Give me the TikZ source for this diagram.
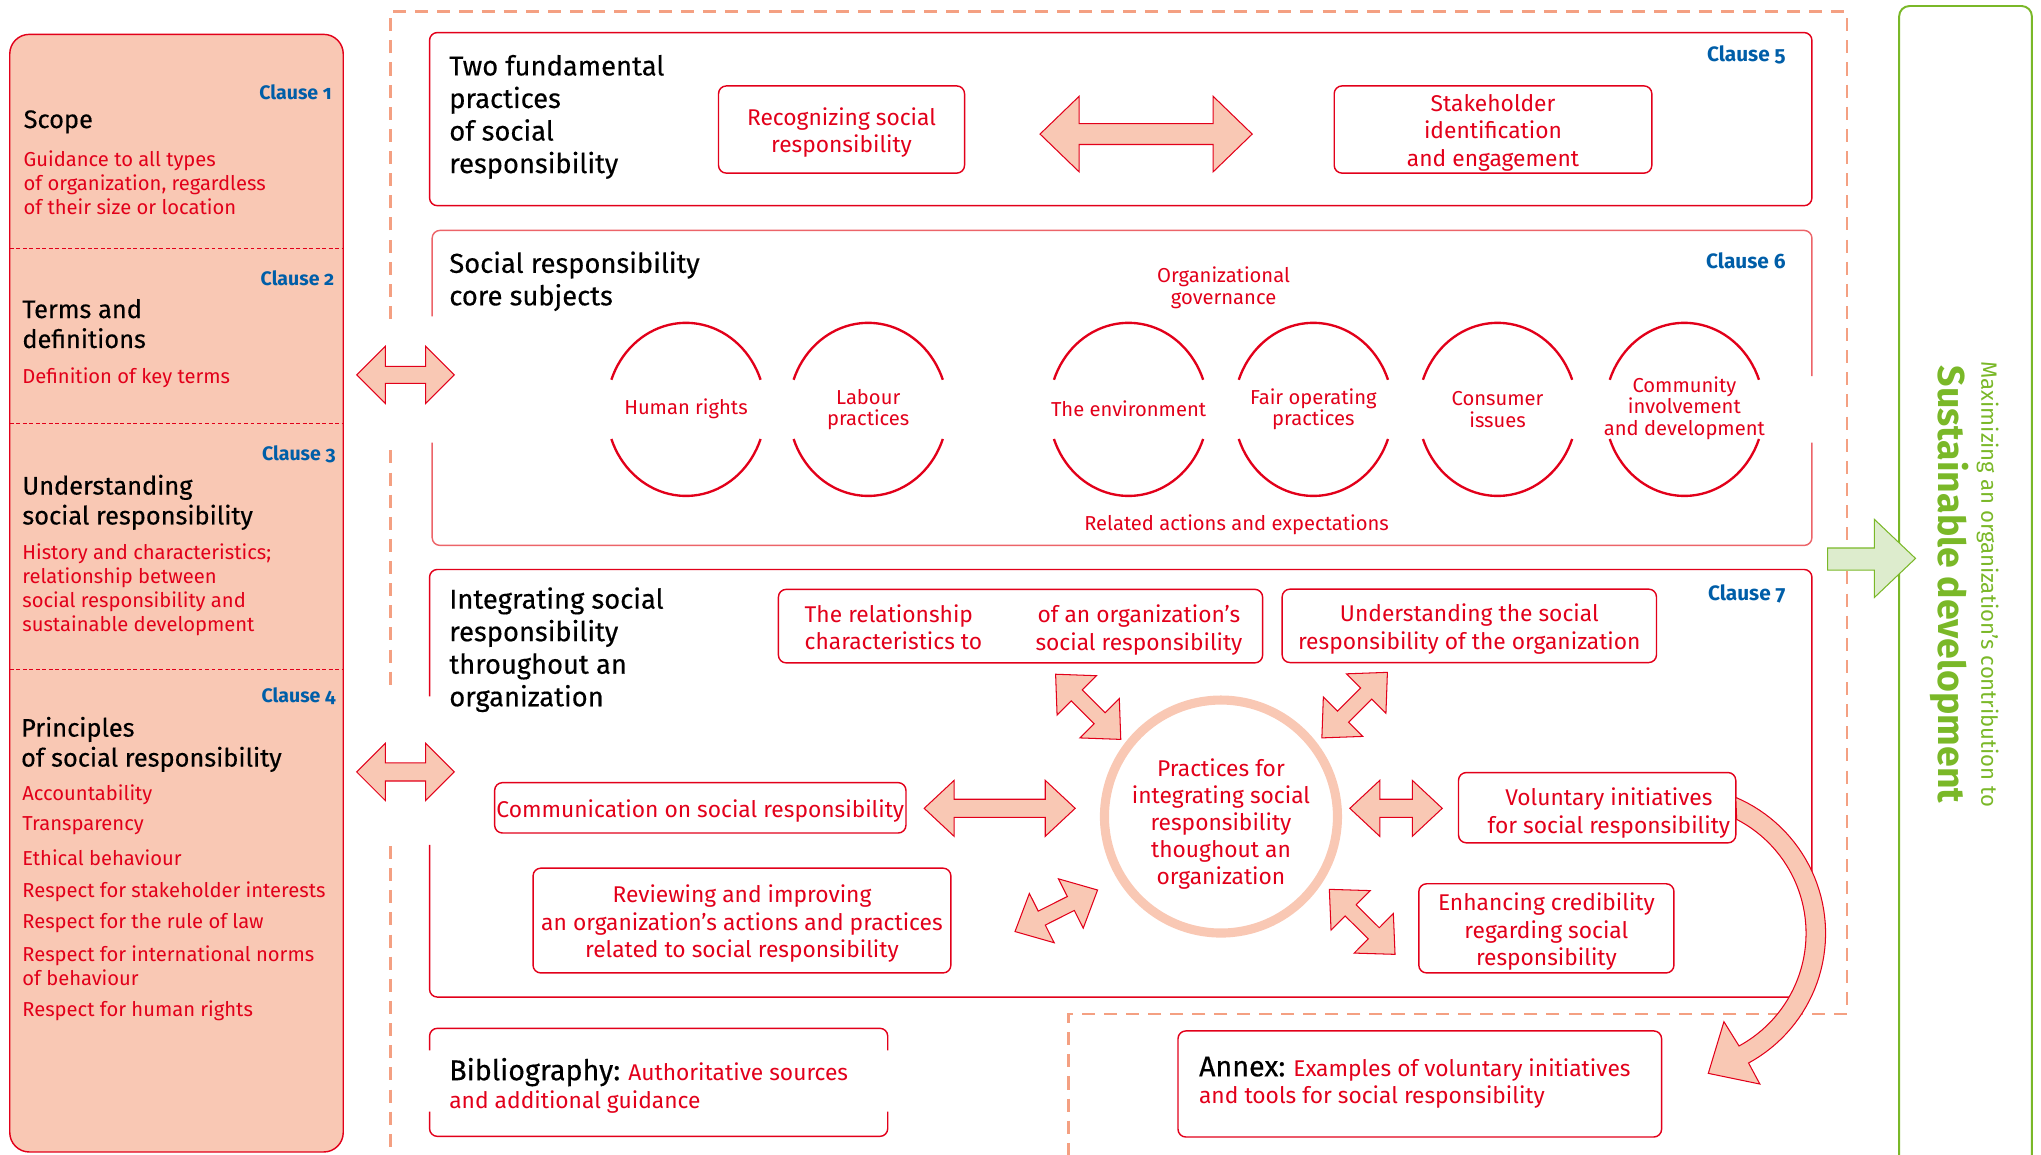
\documentclass[tikz,border=0pt]{standalone}
\usepackage{fontspec}
\setmainfont{Fira Sans}
\newfontfamily\srmed[FakeBold=0.35]{Fira Sans}
\definecolor{srred}{RGB}{226,0,26}
\definecolor{srredlight}{RGB}{236,100,105}
\definecolor{srpink}{RGB}{249,200,180}
\definecolor{srblue}{RGB}{0,94,168}
\definecolor{srgreen}{RGB}{122,184,40}
\definecolor{srgreenlight}{RGB}{221,236,205}
\definecolor{srdash}{RGB}{244,160,130}
\tikzset{
 redbox/.style={draw=srred, line width=1.1pt, rounded corners=6pt},
 emptybox/.style={redbox, inner sep=0pt},
 blockarrow/.style={fill=srpink, draw=srred, line width=0.8pt, line join=miter},
 lhead/.style={anchor=north west, inner sep=0pt, align=left, font=\srmed\fontsize{19.5}{23}\selectfont},
 ltext/.style={anchor=north west, inner sep=0pt, align=left, text=srred, font=\fontsize{15.5}{18.5}\selectfont},
 bhead/.style={anchor=north west, inner sep=0pt, align=left, font=\srmed\fontsize{21}{25}\selectfont},
 clauselbl/.style={anchor=east, inner sep=0pt, text=srblue, font=\fontsize{15}{18}\selectfont\bfseries\addfontfeatures{Numbers=OldStyle}},
 bclause/.style={clauselbl, font=\fontsize{16}{18}\selectfont\bfseries\addfontfeatures{Numbers=OldStyle}},
 ctext/.style={inner sep=0pt, align=center, text=srred, font=\fontsize{15.5}{16.5}\selectfont},
 btext/.style={inner sep=0pt, align=center, text=srred, font=\fontsize{17.5}{21}\selectfont, yshift=-2.5pt},
 subj/.style={draw=srred, line width=1.8pt},
 dashframe/.style={draw=srdash, line width=2pt, dash pattern=on 10pt off 7pt},
}
\newcommand{\dblarrow}[7]{%
\begin{scope}[shift={(#1,#2)},rotate=#3]
\filldraw[blockarrow] (-#4,0) -- ({-#4+#5},{-#6}) -- ({-#4+#5},{-#7}) -- ({#4-#5},{-#7}) -- ({#4-#5},{-#6}) -- (#4,0) -- ({#4-#5},{#6}) -- ({#4-#5},{#7}) -- ({-#4+#5},{#7}) -- ({-#4+#5},{#6}) -- cycle;
\end{scope}}
\begin{document}
\begin{tikzpicture}[x=1pt,y=-1pt]
\useasboundingbox (0,0) rectangle (1568,887);
% left panel
\filldraw[fill=srpink, draw=srred, line width=1.1pt, rounded corners=15pt] (7.5,26.4) rectangle (263.7,885);
\foreach \yy in {191,325.5,514} {
 \draw[srred, line width=0.8pt, dash pattern=on 3pt off 2pt] (7.5,\yy) -- (263.7,\yy);
}
\node[clauselbl] (c1) at (255,71) {Clause 1};
\node[lhead] (scope) at (18,84.5) {Scope};
\node[ltext] (scopet) at (18,115.5) {Guidance to all types\\of organization, regardless\\of their size or location};
\node[clauselbl] (c2) at (257,214) {Clause 2};
\node[lhead] (terms) at (17,229.5) {Terms and\\definitions};
\node[ltext] (termst) at (17,282.5) {Definition of key terms};
\node[clauselbl] (c3) at (258,349) {Clause 3};
\node[lhead] (under) at (17,364.5) {Understanding\\social responsibility};
\node[ltext] (undert) at (17,417.5) {History and characteristics;\\relationship between\\social responsibility and\\sustainable development};
\node[clauselbl] (c4) at (258,535) {Clause 4};
\node[lhead] (princ) at (16,550.5) {Principles\\of social responsibility};
\node[ltext] (p1) at (17,602.5) {Accountability};
\node[ltext] (p2) at (17,627.5) {Transparency};
\node[ltext] (p3) at (17,652.5) {Ethical behaviour};
\node[ltext] (p4) at (17,677.5) {Respect for stakeholder interests};
\node[ltext] (p5) at (17,701.5) {Respect for the rule of law};
\node[ltext] (p6) at (17,726.5) {Respect for international norms\\of behaviour};
\node[ltext] (p7) at (17,768.5) {Respect for human rights};
% dashed frame
\draw[dashframe] (300,245) -- (300,9) -- (1419,9) -- (1419,779) -- (821,779) -- (821,887);
\draw[dashframe] (300,346) -- (300,529);
\draw[dashframe] (300,650) -- (300,887);
% green box
\draw[draw=srgreen, line width=1.5pt, rounded corners=8pt] (1459,895) -- (1459,4.6) -- (1561,4.6) -- (1561,895);
\filldraw[fill=srgreenlight, draw=srgreen, line width=0.8pt] (1404,421) -- (1440,421) -- (1440,399) -- (1471.6,429) -- (1440,459) -- (1440,438) -- (1404,438) -- cycle;
\node[rotate=-90, text=srgreen, font=\fontsize{28.8}{30}\selectfont\bfseries, inner sep=0pt] (sd) at (1497.6,449) {Sustainable development};
\node[rotate=-90, text=srgreen, font=\fontsize{17}{20}\selectfont, inner sep=0pt] (maxi) at (1527,449) {Maximizing an organization’s contribution to};
% clause 5
\draw[redbox] (330,25) rectangle (1392,158);
\node[bclause] (c5) at (1372,42.5) {Clause 5};
\node[bhead] (h5) at (345,42) {Two fundamental\\practices\\of social\\responsibility};
\node[emptybox, minimum width=189pt, minimum height=67pt] (recog) at (646.5,99.5) {};
\node[btext] (recogt) at (recog.center) {Recognizing social\\responsibility};
\node[emptybox, minimum width=244pt, minimum height=67pt] (stake) at (1147,99.5) {};
\node[btext] (staket) at (stake.center) {Stakeholder\\identification\\and engagement};
\dblarrow{880.5}{103}{0}{81.5}{30}{29}{8}
% clause 6
\draw[redbox, draw=srredlight] (332,243) -- (332,177) -- (1392,177) -- (1392,289);
\draw[redbox, draw=srredlight] (1392,340) -- (1392,419) -- (332,419) -- (332,340);
\node[bclause] (c6) at (1372,200) {Clause 6};
\node[bhead] (h6) at (345,193) {Social responsibility\\core subjects};
\foreach \cx in {527,667,867,1009,1150.5,1294} {
 \draw[subj] plot[domain=20:160,samples=40] ({\cx+61*cos(\x)},{314.5-66.5*sin(\x)});
 \draw[subj] plot[domain=200:340,samples=40] ({\cx+61*cos(\x)},{314.5-66.5*sin(\x)});
}
\node[ctext] (hr) at (527,314) {Human rights};
\node[ctext] (lab) at (667,314.5) {Labour\\practices};
\node[ctext] (env) at (867,314) {The environment};
\node[ctext] (fair) at (1009,314.5) {Fair operating\\practices};
\node[ctext] (cons) at (1150.5,314.5) {Consumer\\issues};
\node[ctext] (commu) at (1294,313.5) {Community\\involvement\\and development};
\node[ctext] (gov) at (940,221) {Organizational\\governance};
\node[ctext] (rel) at (950,403.5) {Related actions and expectations};
\dblarrow{311.5}{288}{0}{37.5}{22}{22}{6.5}
% clause 7
\draw[redbox] (330,535) -- (330,437.5) -- (1392,437.5) -- (1392,766) -- (330,766) -- (330,649);
\node[bclause] (c7) at (1372,456) {Clause 7};
\node[bhead] (h7) at (345,451) {Integrating social\\responsibility\\throughout an\\organization};
\dblarrow{311.5}{593}{0}{37.5}{22}{22}{7}
\node[emptybox, minimum width=372pt, minimum height=56.5pt] (relbox) at (784,481) {};
\node[btext, align=left, anchor=north west, yshift=0pt] (relL) at (618,462) {The relationship\\characteristics to};
\node[btext] (relR) at (875,481.5) {of an organization’s\\social responsibility};
\node[emptybox, minimum width=287.6pt, minimum height=56.4pt] (undbox) at (1128.8,480.8) {};
\node[btext] (undt) at (undbox.center) {Understanding the social\\responsibility of the organization};
\node[emptybox, minimum width=316pt, minimum height=38.7pt] (commbox) at (538,620.6) {};
\node[btext] (commt) at (commbox.center) {Communication on social responsibility};
\node[emptybox, minimum width=321pt, minimum height=80.5pt] (revbox) at (570,707.2) {};
\node[btext] (revt) at (revbox.center) {Reviewing and improving\\an organization’s actions and practices\\related to social responsibility};
\node[emptybox, minimum width=213pt, minimum height=54pt] (volbox) at (1227,620.5) {};
\node[btext] (voltxt) at (1236,622) {Voluntary initiatives\\for social responsibility};
\node[emptybox, minimum width=196pt, minimum height=68.5pt] (enhbox) at (1188,713.2) {};
\node[btext] (enht) at (enhbox.center) {Enhancing credibility\\regarding social\\responsibility};
\node[circle, draw=srpink, line width=7pt, minimum size=179pt, inner sep=0pt] (prac) at (938,627.3) {};
\node[btext, font=\fontsize{17.5}{20.6}\selectfont] (practxt) at (938,630.5) {Practices for\\integrating social\\responsibility\\thoughout an\\organization};
\dblarrow{768}{621}{0}{58}{23}{21.5}{7}
\dblarrow{1072.5}{621}{0}{35.5}{23}{21.5}{7}
\dblarrow{836}{543}{-45}{35.4}{23}{21.4}{6}
\dblarrow{1040.7}{541.7}{45}{35.6}{23}{21.4}{6}
\dblarrow{811.5}{699.7}{26.7}{35.5}{23}{21.2}{6}
\dblarrow{1046.5}{708.2}{-44.7}{35.5}{23}{21.4}{6}
% bibliography and annex
\draw[redbox] (330,807) -- (330,790) -- (682,790) -- (682,807);
\draw[redbox] (330,854) -- (330,873) -- (682,873) -- (682,854);
\node[anchor=north west, inner sep=0pt, align=left, text=srred, font=\fontsize{17.5}{21.6}\selectfont] (bib) at (345,812.5) {{\color{black}\srmed\fontsize{22}{21.6}\selectfont Bibliography:} Authoritative sources\\and additional guidance};
\draw[redbox] (905,792) rectangle (1276.5,873.5);
\node[anchor=north west, inner sep=0pt, align=left, text=srred, font=\fontsize{17.5}{21}\selectfont] (annex) at (921,811.5) {{\color{black}\srmed\fontsize{22}{21}\selectfont Annex:} Examples of voluntary initiatives\\and tools for social responsibility};
% curved arrow
\filldraw[blockarrow] plot[domain=66.9:-61.4,samples=50] ({1289+113.5*cos(\x)},{717-113.5*sin(\x)}) -- (1352,832.8) -- (1312.4,824.6) -- (1324.4,784.9) -- plot[domain=-61.5:62.7,samples=50] ({1289+98.5*cos(\x)},{717-98.5*sin(\x)}) -- cycle;
\end{tikzpicture}
\end{document}
